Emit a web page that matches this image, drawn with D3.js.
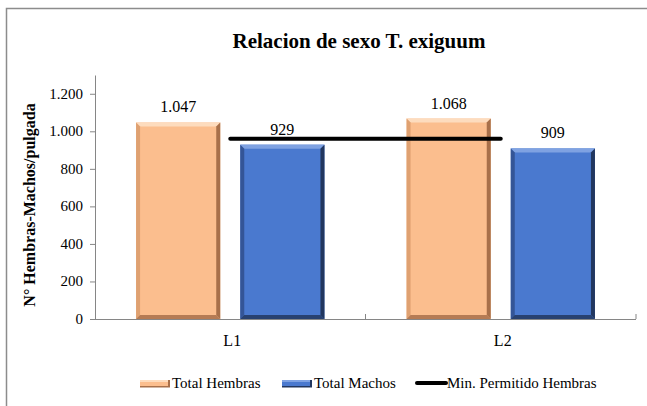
<!DOCTYPE html>
<html>
<head>
<meta charset="utf-8">
<script src="https://cdn.jsdelivr.net/npm/d3@7"></script>
<style>
  html, body { margin: 0; padding: 0; background: #fff; }
</style>
</head>
<body>
<div id="chart"></div>
<script>
const categories = ["L1", "L2"];
const hembras = [1047, 1068];
const machos = [929, 909];
const minPermitido = [960, 960];
const yTicks = [0, 200, 400, 600, 800, 1000, 1200];

const width = 647, height = 406;
const margin = {top: 75, right: 11, bottom: 87, left: 95};
const serif = "Liberation Serif";

const loc = d3.formatLocale({decimal: ",", thousands: ".", grouping: [3], currency: ["", ""]});
const fmt = loc.format(",d");

const svg = d3.select("#chart").append("svg")
    .attr("width", width)
    .attr("height", height)
    .attr("font-family", serif);

// outer frame
svg.append("rect")
    .attr("x", 6.5).attr("y", 8.5)
    .attr("width", 700).attr("height", 500)
    .attr("fill", "none")
    .attr("stroke", "#8c8c8c")
    .attr("stroke-width", 1.5);

let x = d3.scaleBand()
    .domain(categories)
    .range([margin.left, width - margin.right])
    .paddingInner(0).paddingOuter(0);

let xSub = d3.scaleBand()
    .domain(["h", "m"])
    .range([0, x.bandwidth()])
    .paddingInner(0.192)
    .paddingOuter(0.394);

let y = d3.scaleLinear()
    .domain([0, 1300])
    .range([height - margin.bottom, margin.top]);

// title
svg.append("text")
    .attr("x", 359).attr("y", 48)
    .attr("text-anchor", "middle")
    .attr("font-family", serif)
    .attr("font-size", 21)
    .attr("font-weight", "bold")
    .text("Relacion de sexo T. exiguum");

// y axis (lines from d3.axisLeft, labels drawn with same scale)
let yAxis = g => g
    .attr("transform", `translate(${margin.left},0)`)
    .call(d3.axisLeft(y).tickValues(yTicks).tickFormat("").tickSize(5).tickSizeOuter(0))
    .call(g => g.select(".domain").attr("stroke", "#868686"))
    .call(g => g.selectAll(".tick line").attr("stroke", "#868686"));

svg.append("g").attr("class", "y-axis").call(yAxis);

svg.append("g").attr("class", "y-labels")
    .selectAll("text")
    .data(yTicks)
    .join("text")
    .attr("x", margin.left - 12)
    .attr("y", d => y(d) + 5)
    .attr("text-anchor", "end")
    .attr("font-family", serif)
    .attr("font-size", 15)
    .text(d => fmt(d));

svg.append("text")
    .attr("transform", `translate(35,${(y(0) + y(1300)) / 2 + 8}) rotate(-90)`)
    .attr("text-anchor", "middle")
    .attr("font-family", serif)
    .attr("font-size", 16)
    .attr("font-weight", "bold")
    .text("N° Hembras-Machos/pulgada");

// bars with bevel
const series = [
    {key: "h", values: hembras, fill: "#FBBE8E", light: "#FDDCBE", dark: "#A8704A", side: "#D89A6A"},
    {key: "m", values: machos, fill: "#4A79CF", light: "#7FA2E2", dark: "#22375F", side: "#2E4C88"}
];

function bevelBar(g, x0, y0, w, h, s) {
    const b = 4;
    g.append("rect").attr("x", x0).attr("y", y0).attr("width", w).attr("height", h).attr("fill", s.fill);
    g.append("polygon")
        .attr("points", [[x0, y0], [x0 + w, y0], [x0 + w - b, y0 + b], [x0 + b, y0 + b]].join(" "))
        .attr("fill", s.light);
    g.append("polygon")
        .attr("points", [[x0, y0], [x0 + b, y0 + b], [x0 + b, y0 + h - b], [x0, y0 + h]].join(" "))
        .attr("fill", s.side).attr("opacity", 0.8);
    g.append("polygon")
        .attr("points", [[x0 + w, y0], [x0 + w, y0 + h], [x0 + w - b, y0 + h - b], [x0 + w - b, y0 + b]].join(" "))
        .attr("fill", s.dark);
    g.append("polygon")
        .attr("points", [[x0, y0 + h], [x0 + w, y0 + h], [x0 + w - b, y0 + h - b], [x0 + b, y0 + h - b]].join(" "))
        .attr("fill", s.dark).attr("opacity", 0.85);
}

const bars = svg.append("g").attr("class", "bars");
series.forEach(s => {
    categories.forEach((c, i) => {
        const x0 = x(c) + xSub(s.key);
        const y0 = y(s.values[i]);
        bevelBar(bars, x0, y0, xSub.bandwidth(), y(0) - y0, s);
        bars.append("text")
            .attr("x", x0 + xSub.bandwidth() / 2)
            .attr("y", y0 - 10)
            .attr("text-anchor", "middle")
            .attr("font-family", serif)
            .attr("font-size", 16)
            .text(fmt(s.values[i]));
    });
});

// x axis
svg.append("line")
    .attr("x1", margin.left).attr("x2", width - margin.right)
    .attr("y1", y(0) + 0.5).attr("y2", y(0) + 0.5)
    .attr("stroke", "#868686");
svg.append("g").selectAll("line")
    .data(categories)
    .join("line")
    .attr("x1", d => x(d) + x.bandwidth()).attr("x2", d => x(d) + x.bandwidth())
    .attr("y1", y(0)).attr("y2", y(0) - 5)
    .attr("stroke", "#868686");
svg.append("g").selectAll("text")
    .data(categories)
    .join("text")
    .attr("x", d => x(d) + x.bandwidth() / 2 + 2)
    .attr("y", y(0) + 27)
    .attr("text-anchor", "middle")
    .attr("font-family", serif)
    .attr("font-size", 16)
    .text(d => d);

// min line
const line = d3.line()
    .x((d, i) => x(categories[i]) + x.bandwidth() / 2)
    .y(d => y(d));
svg.append("path")
    .datum(minPermitido)
    .attr("d", line)
    .attr("fill", "none")
    .attr("stroke", "#000")
    .attr("stroke-width", 4)
    .attr("stroke-linecap", "round");

// legend
const legY = 383;
const legend = svg.append("g");
function legendBar(x0, s, label, tx) {
    legend.append("rect").attr("x", x0).attr("y", legY - 3).attr("width", 30).attr("height", 7).attr("fill", s.fill);
    legend.append("rect").attr("x", x0).attr("y", legY - 3).attr("width", 30).attr("height", 2).attr("fill", s.light);
    legend.append("rect").attr("x", x0).attr("y", legY + 3).attr("width", 30).attr("height", 1.5).attr("fill", s.dark);
    legend.append("rect").attr("x", x0 + 28).attr("y", legY - 3).attr("width", 2).attr("height", 7).attr("fill", s.dark);
    legend.append("text").attr("x", tx).attr("y", legY + 5)
        .attr("font-family", serif).attr("font-size", 15).text(label);
}
legendBar(140, series[0], "Total Hembras", 172);
legendBar(282, series[1], "Total Machos", 314);
legend.append("line")
    .attr("x1", 417).attr("x2", 446)
    .attr("y1", legY).attr("y2", legY)
    .attr("stroke", "#000").attr("stroke-width", 4).attr("stroke-linecap", "round");
legend.append("text").attr("x", 447).attr("y", legY + 5)
    .attr("font-family", serif).attr("font-size", 15).text("Min. Permitido Hembras");
</script>
</body>
</html>
